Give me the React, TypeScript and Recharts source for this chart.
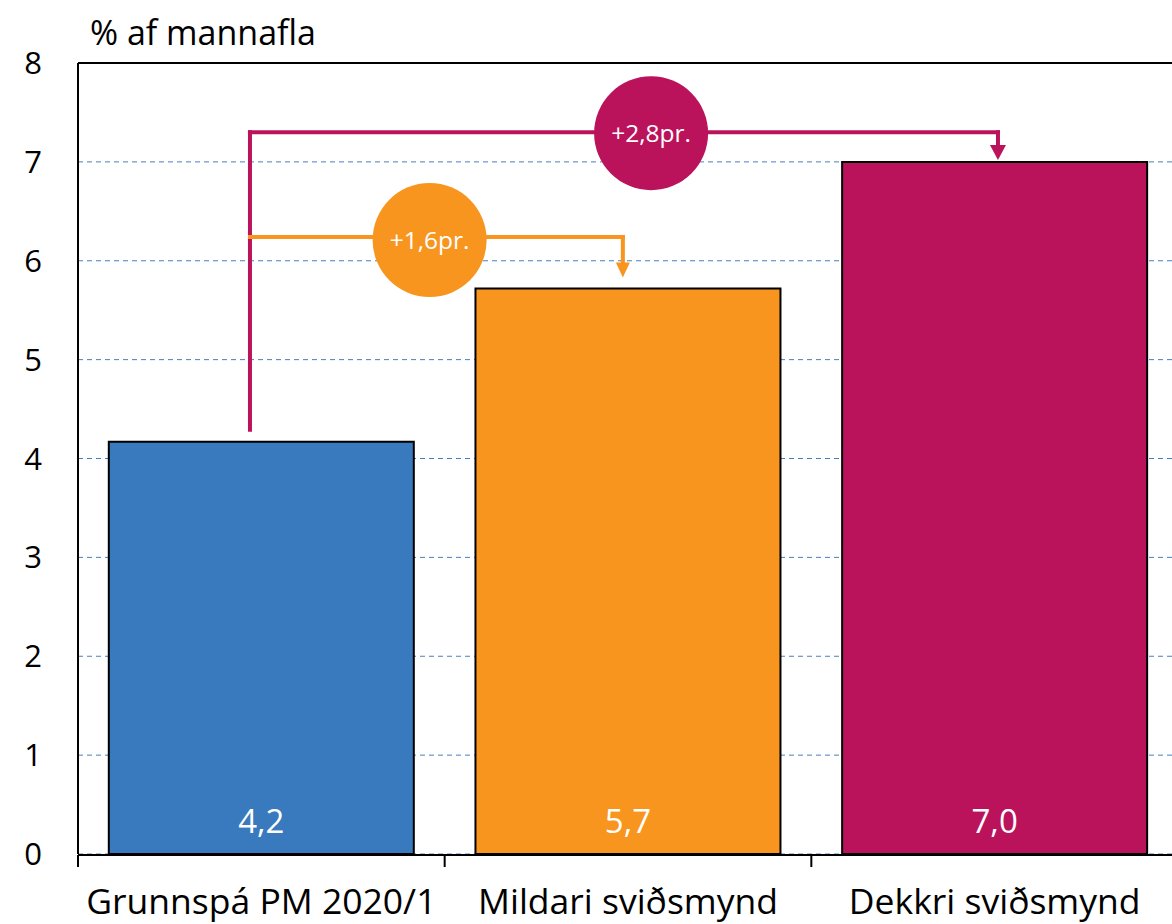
import React from 'react';
import { BarChart, Bar, XAxis, YAxis, CartesianGrid, ReferenceLine, ReferenceDot, LabelList, Cell } from 'recharts';

const FONT = '"Open Sans", sans-serif';

const categories = ['Grunnspá PM 2020/1', 'Mildari sviðsmynd', 'Dekkri sviðsmynd'];
const values = [4.17, 5.72, 7.0];
const barColors = ['#3979BE', '#F7951F', '#BA135C'];
const yTicks = [0, 1, 2, 3, 4, 5, 6, 7, 8];
const boundaryTicks = [0, 1, 2, 3];

// annotation arrows, in (category position, % af mannafla) units
const magentaPath = [[0.469, 4.29], [0.469, 7.3], [2.509, 7.3], [2.509, 7.12]];
const magentaTip = [2.509, 7.02];
const magentaBubble = { x: 1.563, y: 7.29, text: '+2,8pr.' };
const orangePath = [[0.469, 6.24], [1.486, 6.24], [1.486, 5.98]];
const orangeTip = [1.486, 5.83];
const orangeBubble = { x: 0.959, y: 6.21, text: '+1,6pr.' };

const data = categories.map((name, i) => ({ name, value: values[i], pos: i + 0.5 }));

const fmt = (v: number) => v.toFixed(1).replace('.', ',');

function CategoryTick(props: any) {
    const { x, y, payload } = props;
    return (
        <text x={x} y={y + 54} textAnchor="middle" fill="#000" fontSize={35.5} fontFamily={FONT}>
            {payload.value}
        </text>
    );
}

function ValueLabel(props: any) {
    const { x, y, width, height, value } = props;
    return (
        <text x={x + width / 2} y={y + height - 21} textAnchor="middle" fill="#fff" fontSize={33} fontFamily={FONT}>
            {fmt(value)}
        </text>
    );
}

const arrowHead = (color: string, half: number, len: number) => (p: any) => (
    <path d={`M${p.cx - half},${p.cy - len} L${p.cx + half},${p.cy - len} L${p.cx},${p.cy} Z`} fill={color} />
);

function segments(path: number[][], color: string, key: string) {
    return path.slice(1).map((pt, i) => (
        <ReferenceLine
            key={`${key}-${i}`}
            xAxisId="num"
            segment={[{ x: path[i][0], y: path[i][1] }, { x: pt[0], y: pt[1] }]}
            stroke={color}
            strokeWidth={4}
            strokeLinecap="square"
        />
    ));
}

export default function App() {
    return (
        <div style={{ position: 'absolute', left: 0, top: 0, width: 1172, height: 924, overflow: 'hidden', fontFamily: FONT }}>
            <div style={{ position: 'absolute', left: 90, top: 15, fontSize: 34, lineHeight: '34px', color: '#000', whiteSpace: 'nowrap' }}>
                % af mannafla
            </div>
            <BarChart width={1180} height={924} data={data} margin={{ top: 63, right: 2, left: 0, bottom: 0 }} barCategoryGap="8.4%">
                <CartesianGrid xAxisId="num" vertical={false} stroke="#4A7EBB" strokeDasharray="5 4" strokeWidth={1} />
                <XAxis
                    xAxisId="cat"
                    dataKey="name"
                    height={1}
                    axisLine={false}
                    tickLine={false}
                    tickSize={6}
                    tickMargin={0}
                    interval={0}
                    tick={<CategoryTick />}
                />
                <XAxis
                    xAxisId="num"
                    dataKey="pos"
                    type="number"
                    domain={[0, 3]}
                    allowDataOverflow
                    ticks={boundaryTicks}
                    interval={0}
                    height={69}
                    tick={() => <g />}
                    tickSize={12}
                    axisLine={{ stroke: '#000', strokeWidth: 2 }}
                    tickLine={{ stroke: '#000', strokeWidth: 2 }}
                />
                <YAxis
                    width={78}
                    domain={[0, 8]}
                    ticks={yTicks}
                    interval={0}
                    tickLine={false}
                    tickSize={6}
                    tickMargin={30}
                    axisLine={{ stroke: '#000', strokeWidth: 2 }}
                    tick={{ fill: '#000', fontSize: 31, fontFamily: FONT }}
                />
                <ReferenceLine xAxisId="num" y={8} stroke="#000" strokeWidth={2} />
                <Bar xAxisId="cat" dataKey="value" stroke="#000" strokeWidth={2} isAnimationActive={false}>
                    {data.map((d, i) => (
                        <Cell key={d.name} fill={barColors[i]} />
                    ))}
                    <LabelList dataKey="value" content={<ValueLabel />} />
                </Bar>
                {segments(magentaPath, '#BA135C', 'm')}
                {segments(orangePath, '#F7951F', 'o')}
                <ReferenceDot xAxisId="num" x={magentaTip[0]} y={magentaTip[1]} r={8} shape={arrowHead('#BA135C', 8, 15)} />
                <ReferenceDot xAxisId="num" x={orangeTip[0]} y={orangeTip[1]} r={8} shape={arrowHead('#F7951F', 7, 15)} />
                <ReferenceDot
                    xAxisId="num"
                    x={magentaBubble.x}
                    y={magentaBubble.y}
                    r={57}
                    fill="#BA135C"
                    stroke="none"
                    label={{ value: magentaBubble.text, position: 'center', fill: '#fff', fontSize: 24.5, fontFamily: FONT }}
                />
                <ReferenceDot
                    xAxisId="num"
                    x={orangeBubble.x}
                    y={orangeBubble.y}
                    r={57}
                    fill="#F7951F"
                    stroke="none"
                    label={{ value: orangeBubble.text, position: 'center', fill: '#fff', fontSize: 24.5, fontFamily: FONT }}
                />
            </BarChart>
        </div>
    );
}
